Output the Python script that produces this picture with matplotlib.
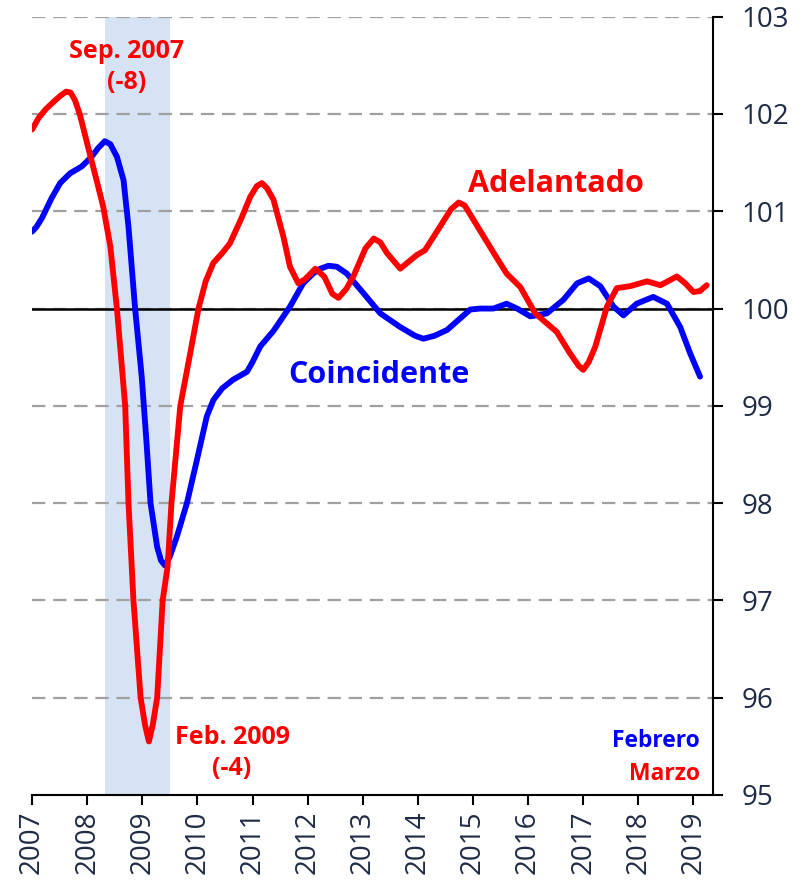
import matplotlib
matplotlib.use("Agg")
import matplotlib.pyplot as plt

# Indicador coincidente (azul), lectura aproximada del grafico
coin_x = [2007.0, 2007.08, 2007.18, 2007.35, 2007.51, 2007.69, 2007.9, 2008.08,
          2008.2, 2008.32, 2008.42, 2008.54, 2008.66, 2008.75, 2008.87, 2008.99,
          2009.07, 2009.15, 2009.27, 2009.34, 2009.41, 2009.5, 2009.63, 2009.81,
          2009.99, 2010.17, 2010.29, 2010.45, 2010.65, 2010.9, 2011.0, 2011.14,
          2011.38, 2011.68, 2011.92, 2012.1, 2012.23, 2012.38, 2012.53, 2012.71,
          2013.01, 2013.32, 2013.68, 2013.95, 2014.1, 2014.3, 2014.53, 2014.95,
          2015.13, 2015.37, 2015.61, 2015.8, 2016.04, 2016.34, 2016.64, 2016.89,
          2017.1, 2017.31, 2017.55, 2017.73, 2017.97, 2018.27, 2018.52, 2018.76,
          2018.94, 2019.12]
coin_y = [100.79, 100.84, 100.93, 101.13, 101.29, 101.39, 101.46, 101.56,
          101.65, 101.72, 101.69, 101.56, 101.32, 100.84, 100.0, 99.3,
          98.68, 98.0, 97.55, 97.41, 97.36, 97.45, 97.66, 98.0,
          98.44, 98.89, 99.06, 99.18, 99.27, 99.35, 99.45, 99.61,
          99.77, 100.02, 100.26, 100.36, 100.41, 100.44, 100.43, 100.36,
          100.16, 99.95, 99.81, 99.72, 99.69, 99.72, 99.78, 99.99,
          100.0, 100.0, 100.05, 100.0, 99.92, 99.95, 100.09, 100.26,
          100.31, 100.23, 100.02, 99.93, 100.05, 100.12, 100.05, 99.81,
          99.54, 99.3]

# Indicador adelantado (rojo)
adel_x = [2007.0, 2007.12, 2007.25, 2007.4, 2007.52, 2007.62, 2007.7, 2007.78,
          2007.87, 2008.03, 2008.18, 2008.29, 2008.42, 2008.54, 2008.69, 2008.75,
          2008.84, 2008.97, 2009.05, 2009.12, 2009.19, 2009.27, 2009.37, 2009.46,
          2009.53, 2009.69, 2009.87, 2010.02, 2010.15, 2010.29, 2010.45, 2010.59,
          2010.8, 2010.96, 2011.08, 2011.17, 2011.26, 2011.38, 2011.56, 2011.68,
          2011.83, 2011.95, 2012.14, 2012.3, 2012.45, 2012.56, 2012.7, 2012.83,
          2013.05, 2013.2, 2013.32, 2013.44, 2013.68, 2013.98, 2014.13, 2014.4,
          2014.6, 2014.74, 2014.85, 2015.13, 2015.4, 2015.61, 2015.86, 2016.13,
          2016.52, 2016.76, 2016.92, 2017.0, 2017.1, 2017.22, 2017.43, 2017.61,
          2017.85, 2018.16, 2018.4, 2018.7, 2018.85, 2019.0, 2019.12, 2019.24]
adel_y = [101.84, 101.96, 102.05, 102.13, 102.19, 102.23, 102.22, 102.14,
          101.99, 101.63, 101.3, 101.05, 100.64, 100.0, 99.0, 98.0,
          97.0, 96.0, 95.72, 95.55, 95.72, 96.0, 97.0, 97.35,
          98.0, 99.0, 99.54, 100.0, 100.28, 100.47, 100.57, 100.67,
          100.93, 101.15, 101.26, 101.29, 101.24, 101.12, 100.74, 100.43,
          100.26, 100.3, 100.41, 100.33, 100.15, 100.11, 100.2, 100.33,
          100.62, 100.72, 100.68, 100.57, 100.41, 100.55, 100.6, 100.84,
          101.02, 101.09, 101.06, 100.8, 100.55, 100.36, 100.22, 99.95,
          99.76, 99.54, 99.41, 99.37, 99.45, 99.61, 100.02, 100.21,
          100.23, 100.28, 100.24, 100.33, 100.26, 100.17, 100.18, 100.24]

years = list(range(2007, 2020))
y_ticks = [95, 96, 97, 98, 99, 100, 101, 102, 103]

tick_color = "#1f2a44"
plt.rcParams["font.family"] = ["Open Sans", "DejaVu Sans"]

fig = plt.figure(figsize=(8.09, 8.84), dpi=100)
ax = fig.add_axes([0.0396, 0.1007, 0.8414, 0.8804])

ax.axvspan(2008.33, 2009.5, color="#d6e3f4", zorder=0, lw=0)
for v in y_ticks[1:]:
    ax.axhline(v, color="#a0a0a0", lw=1.6, dashes=(6, 3.5), zorder=1)
ax.axhline(100, color="black", lw=1.8, zorder=2)

ax.plot(coin_x, coin_y, color="#0000ff", lw=4.2, solid_joinstyle="round",
        solid_capstyle="round", zorder=3)
ax.plot(adel_x, adel_y, color="#ff0000", lw=4.2, solid_joinstyle="round",
        solid_capstyle="round", zorder=4)

ax.set_xlim(2007, 2019.35)
ax.set_ylim(95, 103)
ax.set_xticks(years)
ax.set_xticklabels([str(y) for y in years], rotation=90)
ax.set_yticks(y_ticks)
ax.yaxis.tick_right()

ax.spines["left"].set_visible(False)
ax.spines["top"].set_visible(False)
ax.spines["right"].set_linewidth(1.5)
ax.spines["bottom"].set_linewidth(1.5)
ax.tick_params(axis="y", length=7, width=1.5, pad=14, labelsize=20,
               labelcolor=tick_color)
ax.tick_params(axis="x", length=7, width=1.5, pad=4, labelsize=20,
               labelcolor=tick_color)

ax.text(2008.71, 102.48, "Sep. 2007\n(-8)", color="#ff0000", fontsize=18,
        fontweight="bold", ha="center", va="center", linespacing=1.3)
ax.text(2010.63, 95.43, "Feb. 2009\n(-4)", color="#ff0000", fontsize=18,
        fontweight="bold", ha="center", va="center", linespacing=1.3)
ax.text(2016.51, 101.28, "Adelantado", color="#ff0000", fontsize=22,
        fontweight="bold", ha="center", va="center")
ax.text(2013.3, 99.32, "Coincidente", color="#0000ff", fontsize=22,
        fontweight="bold", ha="center", va="center")
ax.text(0.981, 95.56, "Febrero", color="#0000ff", fontsize=16.5,
        fontweight="bold", ha="right", va="center",
        transform=ax.get_yaxis_transform())
ax.text(0.981, 95.22, "Marzo", color="#ff0000", fontsize=16.5,
        fontweight="bold", ha="right", va="center",
        transform=ax.get_yaxis_transform())

fig.savefig("out.png", dpi=100)
